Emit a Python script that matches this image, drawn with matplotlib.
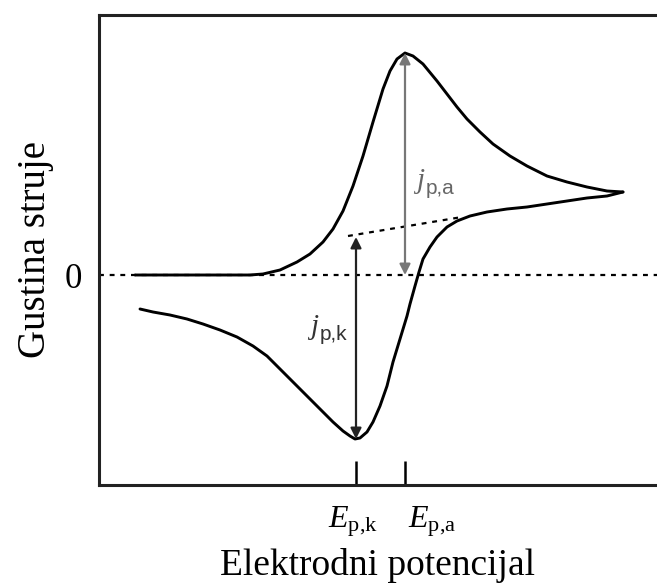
import numpy as np
import matplotlib.pyplot as plt

# potential (arbitrary units) and current density
# forward (anodic) sweep
e_fwd = [36, 81, 121, 151, 164, 181, 198, 211, 224, 234, 244, 254, 264, 274, 284, 291,
         298, 306, 314, 324, 338, 348, 358, 368, 381, 394, 411, 428, 448, 468, 488, 508, 524]
j_fwd = [0, 0, 0, 0, 1, 5, 13, 21, 33, 46, 64, 89, 119, 153, 186, 204,
         216, 222, 219, 211, 194, 181, 168, 156, 143, 131, 119, 109, 99, 93, 88, 84, 83]
# reverse (cathodic) sweep
e_rev = [524, 508, 488, 468, 448, 428, 408, 388, 371, 358, 348, 338, 331, 324, 320, 316,
         311, 308, 301, 294, 288, 281, 274, 268, 261, 256, 251, 244, 234, 221, 208, 194,
         181, 168, 154, 138, 121, 104, 88, 71, 54, 41]
j_rev = [83, 79, 77, 74, 71, 68, 66, 63, 59, 54, 48, 38, 28, 16, 3, -11,
         -29, -41, -64, -87, -111, -131, -147, -157, -163, -164, -161, -156, -147, -134, -121, -107,
         -94, -81, -71, -62, -55, -49, -44, -40, -37, -34]

# extrapolated baseline
e_base = [249, 363]
j_base = [39, 58]

# peak positions
ep_k, jp_k, jb_k = 257, -164, 38
ep_a, jp_a = 306, 222

tick_pos = [ep_k, ep_a]
tick_labels = [r"$E_{\mathrm{p{,}k}}$", r"$E_{\mathrm{p{,}a}}$"]

plt.rcParams['font.family'] = ['Liberation Serif', 'DejaVu Serif']
plt.rcParams['mathtext.fontset'] = 'custom'
plt.rcParams['mathtext.rm'] = 'Liberation Serif'
plt.rcParams['mathtext.it'] = 'Liberation Serif:italic'

fig = plt.figure(figsize=(6.57, 5.86), dpi=100)
ax = fig.add_axes([99 / 657, 101 / 586, 1 - 99 / 657, 470 / 586])

ax.plot(e_fwd, j_fwd, color='black', lw=2.1, solid_joinstyle='round', solid_capstyle='round')
ax.plot(e_rev, j_rev, color='black', lw=2.1, solid_joinstyle='round', solid_capstyle='round')
ax.axhline(0, color='black', lw=1.6, ls=(0, (2.2, 2.6)))
ax.plot(e_base, j_base, color='black', lw=1.6, ls=(0, (2.2, 2.6)))

# peak current arrows
ax.annotate('', xy=(ep_a, 0), xytext=(ep_a, jp_a),
            arrowprops=dict(arrowstyle='<|-|>', color='#777777', lw=1.6,
                            mutation_scale=16, shrinkA=0, shrinkB=0))
ax.annotate('', xy=(ep_k, jb_k), xytext=(ep_k, jp_k),
            arrowprops=dict(arrowstyle='<|-|>', color='#222222', lw=1.6,
                            mutation_scale=16, shrinkA=0, shrinkB=0))

ax.text(314, 93, r"$j$", family='DejaVu Sans', fontsize=21, color='#666666',
        ha='left', va='center')
ax.text(327, 86, "p,a", family='Liberation Sans', fontsize=15, color='#666666',
        ha='left', va='center')
ax.text(208, -53, r"$j$", family='DejaVu Sans', fontsize=21, color='#333333',
        ha='left', va='center')
ax.text(221, -60, "p,k", family='Liberation Sans', fontsize=15, color='#333333',
        ha='left', va='center')

ax.set_xlim(0, 558)
ax.set_ylim(-210, 260)
ax.spines['right'].set_visible(False)
for s in ['left', 'top', 'bottom']:
    ax.spines[s].set_linewidth(2.2)
    ax.spines[s].set_color('#222222')

ax.set_xticks(tick_pos)
ax.set_xticklabels([])
ax.tick_params(axis='x', direction='in', length=17, width=1.8, color='black')
# peak potential labels sit a little off the ticks
xt = ax.get_xaxis_transform()
ax.text(254, -0.078, tick_labels[0], transform=xt, fontsize=23, ha='center', va='center')
ax.text(333, -0.078, tick_labels[1], transform=xt, fontsize=23, ha='center', va='center')

ax.set_yticks([0])
ax.set_yticklabels(['0'], fontsize=25)
ax.tick_params(axis='y', length=0, pad=12)

ax.set_xlabel('Elektrodni potencijal', fontsize=27, labelpad=42)
ax.set_ylabel('Gustina struje', fontsize=28, labelpad=8)

fig.savefig('out.png', dpi=100)
